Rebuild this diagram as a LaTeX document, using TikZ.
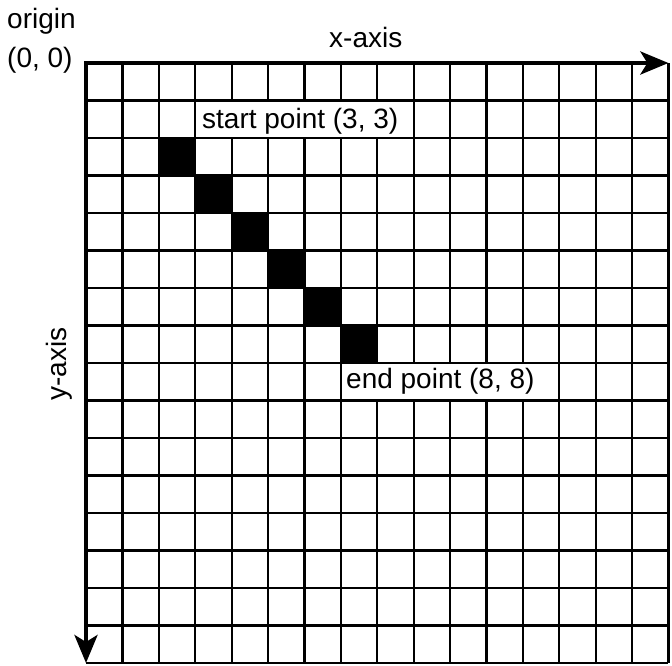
\documentclass[tikz,border=0pt]{standalone}
\usepackage{fontspec}
\setmainfont{Liberation Sans}
\usetikzlibrary{arrows.meta}
\begin{document}
\begin{tikzpicture}[x=1pt,y=-1pt,
  lbl/.style={font=\fontsize{28}{33}\selectfont, inner sep=0pt},
  gridline/.style={line width=2.2pt},
  axis/.style={line width=4.2pt, line cap=rect, -{Stealth[length=28pt,width=23pt,inset=7pt]}},
  cellfill/.style={fill=black},
  labelbg/.style={fill=white}]
\useasboundingbox (0,0) rectangle (672,665);
\def\cw{36.4}
\def\ch{37.5}
% black cells
\foreach \i in {2,...,7} \fill[cellfill] (86+\i*\cw, 63+\i*\ch) rectangle ++(\cw,\ch);
% grid lines
\foreach \i in {1,...,16} \draw[gridline] (86+\i*\cw,63) -- (86+\i*\cw,663);
\foreach \j in {1,...,16} \draw[gridline] (86,63+\j*\ch) -- (668.4,63+\j*\ch);
% label backgrounds
\fill[labelbg] (197.2,101.6) rectangle (411.6,136.9);
\fill[labelbg] (341.9,364.1) rectangle (546,399.4);
% axes
\coordinate (O) at (86,63);
\coordinate (X) at (668.4,63);
\coordinate (Y) at (86,663);
\draw[axis] (O) -- (X);
\draw[axis] (O) -- (Y);
% labels
\node[lbl, anchor=base west] (start) at (202,128) {start point (3, 3)};
\node[lbl, anchor=base west] (end) at (346,388) {end point (8, 8)};
\node[lbl, anchor=base west] (xl) at (329,47) {x-axis};
\node[lbl, anchor=base west, rotate=90] (yl) at (66,401) {y-axis};
\node[lbl, anchor=base west] (o1) at (7,28) {origin};
\node[lbl, anchor=base west] (o2) at (7,67) {(0, 0)};
\end{tikzpicture}
\end{document}
